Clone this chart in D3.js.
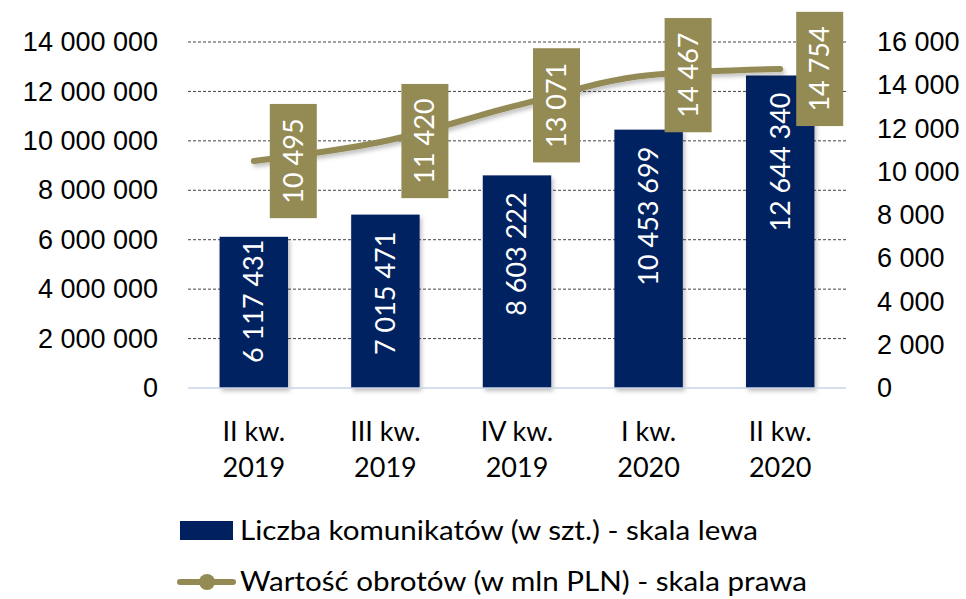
<!DOCTYPE html>
<html>
<head>
<meta charset="utf-8">
<script src="https://cdn.jsdelivr.net/npm/d3@7"></script>
<style>
  body { margin: 0; background: #fff; }
  svg { font-family: Lato, "Open Sans", sans-serif; }
</style>
</head>
<body>
<svg id="chart" width="966" height="599"></svg>
<script>
// data
const quarters = [["II kw.", "2019"], ["III kw.", "2019"], ["IV kw.", "2019"], ["I kw.", "2020"], ["II kw.", "2020"]];
const messages = [6117431, 7015471, 8603222, 10453699, 12644340];
const turnover = [10495, 11420, 13071, 14467, 14754];
const leftTicks = [0, 2000000, 4000000, 6000000, 8000000, 10000000, 12000000, 14000000];
const rightTicks = [0, 2000, 4000, 6000, 8000, 10000, 12000, 14000, 16000];
const legendLabels = ["Liczba komunikatów (w szt.) - skala lewa", "Wartość obrotów (w mln PLN) - skala prawa"];

const navy = "#002060", olive = "#948A54";
const fmt = v => d3.format(",")(v).replace(/,/g, " ");

const dims = { left: 188, right: 846, top: 42, bottom: 388 };
const svg = d3.select("#chart");

const defs = svg.append("defs");
const shadow = defs.append("filter").attr("id", "shadow")
    .attr("x", "-20%").attr("y", "-20%").attr("width", "150%").attr("height", "150%");
shadow.append("feDropShadow").attr("dx", 2).attr("dy", 3).attr("stdDeviation", 2)
    .attr("flood-color", "#000").attr("flood-opacity", 0.25);

const x = d3.scaleBand().domain(d3.range(quarters.length))
    .range([dims.left, dims.right]).paddingInner(0.48).paddingOuter(0.24);
const yL = d3.scaleLinear().domain([0, 14000000]).range([dims.bottom, dims.top]);
const yR = d3.scaleLinear().domain([0, 16000]).range([dims.bottom, dims.top]);
const cx = i => x(i) + x.bandwidth() / 2;

// gridlines
svg.append("g").selectAll("line").data(leftTicks.filter(d => d > 0)).join("line")
    .attr("x1", dims.left).attr("x2", dims.right)
    .attr("y1", d => yL(d)).attr("y2", d => yL(d))
    .attr("stroke", "#444").attr("stroke-width", 1).attr("stroke-dasharray", "3,2");

// left axis
const axL = svg.append("g").attr("transform", "translate(" + dims.left + ",0)")
    .call(d3.axisLeft(yL).tickValues(leftTicks).tickFormat(fmt).tickSize(0).tickPadding(30));
axL.select(".domain").remove();
axL.selectAll("text").attr("font-size", 27).attr("fill", "#000").attr("font-family", null);

// right axis
const axR = svg.append("g").attr("transform", "translate(" + dims.right + ",0)")
    .call(d3.axisRight(yR).tickValues(rightTicks).tickFormat(fmt).tickSize(0).tickPadding(31));
axR.select(".domain").remove();
axR.selectAll("text").attr("font-size", 27).attr("fill", "#000").attr("font-family", null);

// bars
svg.append("g").selectAll("rect").data(messages).join("rect")
    .attr("x", (d, i) => x(i)).attr("width", x.bandwidth())
    .attr("y", d => yL(d)).attr("height", d => yL(0) - yL(d))
    .attr("fill", navy).attr("filter", "url(#shadow)");

// baseline
svg.append("line").attr("x1", dims.left).attr("x2", dims.right)
    .attr("y1", yL(0)).attr("y2", yL(0)).attr("stroke", "#c9d5e6").attr("stroke-width", 1.5);

// bar labels
svg.append("g").selectAll("text").data(messages).join("text")
    .text(d => fmt(d))
    .attr("font-size", 27).attr("fill", "#fff")
    .attr("text-anchor", "end").attr("dy", "0.35em")
    .each(function(d, i) {
        const len = this.getComputedTextLength();
        const top = Math.min(yL(d) + 17, yL(0) - 25 - len);
        d3.select(this).attr("transform", "translate(" + cx(i) + "," + top + ") rotate(-90)");
    });

// line
const line = d3.line().x((d, i) => cx(i)).y(d => yR(d)).curve(d3.curveMonotoneX);
svg.append("path").datum(turnover)
    .attr("d", line).attr("fill", "none")
    .attr("stroke", olive).attr("stroke-width", 6).attr("stroke-linecap", "round")
    .attr("filter", "url(#shadow)");

// line labels
const lab = svg.append("g").selectAll("g").data(turnover).join("g");
lab.append("rect").attr("fill", olive);
lab.append("text")
    .text(d => fmt(d))
    .attr("font-size", 27).attr("fill", "#fff")
    .attr("text-anchor", "middle").attr("dy", "0.35em")
    .attr("transform", (d, i) => "translate(" + (cx(i) + 39.5) + "," + yR(d) + ") rotate(-90)");
lab.each(function(d, i) {
    const len = d3.select(this).select("text").node().getComputedTextLength();
    const h = len + 29;
    d3.select(this).select("rect")
        .attr("x", cx(i) + 16).attr("width", 47)
        .attr("y", yR(d) - h / 2).attr("height", h);
});

// category labels
const cat = svg.append("g").selectAll("text").data(quarters).join("text")
    .attr("text-anchor", "middle").attr("font-size", 27).attr("fill", "#000");
cat.append("tspan").attr("x", (d, i) => cx(i)).attr("y", 441).text(d => d[0]);
cat.append("tspan").attr("x", (d, i) => cx(i)).attr("y", 477).text(d => d[1]);

// legend (glyphs in the original are a bit wider, stretch them)
const lg = svg.append("g");
lg.append("rect").attr("x", 180).attr("y", 521).attr("width", 53).attr("height", 19).attr("fill", navy);
lg.append("line").attr("x1", 180).attr("x2", 233).attr("y1", 582).attr("y2", 582)
    .attr("stroke", olive).attr("stroke-width", 6).attr("stroke-linecap", "round");
lg.append("circle").attr("cx", 207).attr("cy", 582).attr("r", 8).attr("fill", olive);
lg.selectAll("text").data(legendLabels).join("text")
    .attr("x", 240).attr("y", (d, i) => 531 + i * 51).attr("dy", "0.35em")
    .attr("font-size", 27).attr("fill", "#000").text(d => d)
    .each(function() {
        const len = this.getComputedTextLength();
        d3.select(this).attr("textLength", len * 1.095).attr("lengthAdjust", "spacingAndGlyphs");
    });
</script>
</body>
</html>
